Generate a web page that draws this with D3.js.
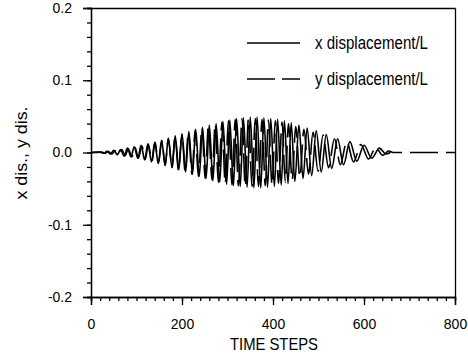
<!DOCTYPE html>
<html>
<head>
<meta charset="utf-8">
<script src="https://cdn.jsdelivr.net/npm/d3@7"></script>
<style>
  body { margin: 0; background: #fff; }
  text { font-family: "Liberation Sans Narrow", "Liberation Sans", Arial, sans-serif; fill: #000; }
  .axis path, .axis line { stroke: #000; stroke-width: 1.3; }
  .axis text { font-size: 14px; }
</style>
</head>
<body>
<div class="dispGraph"></div>
<script>
// x displacement/L : peaks and troughs (time step, value)
const xDispT = [0, 20, 28, 35, 43, 50, 58, 65, 73, 80, 88, 95, 103, 110, 118, 125, 133, 140, 148,
  155, 163, 170, 178, 185, 193, 200, 208, 215, 223, 230, 238, 245, 253, 260, 268, 275, 283,
  290, 298, 305, 313, 320, 328, 335, 343, 350, 358, 365, 373, 380, 388, 395, 403, 410, 418,
  425, 433, 440, 448, 457, 466, 475, 485, 495, 506, 517, 529, 542, 555, 569, 584, 600, 617,
  634, 648, 658];
const xDispV = [0, 0.0005, -0.001, 0.0015, -0.002, 0.003, -0.003, 0.004, -0.005, 0.006, -0.006,
  0.008, -0.008, 0.010, -0.010, 0.012, -0.013, 0.014, -0.015, 0.017, -0.018, 0.020, -0.021,
  0.023, -0.024, 0.026, -0.027, 0.029, -0.030, 0.032, -0.033, 0.035, -0.036, 0.038, -0.039,
  0.040, -0.041, 0.043, -0.044, 0.045, -0.046, 0.047, -0.047, 0.048, -0.048, 0.049, -0.049,
  0.049, -0.049, 0.048, -0.048, 0.047, -0.047, 0.046, -0.045, 0.044, -0.043, 0.041, -0.040,
  0.038, -0.036, 0.034, -0.032, 0.030, -0.027, 0.025, -0.022, 0.019, -0.017, 0.015, -0.012,
  0.010, -0.008, 0.006, -0.002, 0];

// y displacement/L : peaks and troughs, a little out of step with x, then flat to the end
const yDispT = [0, 24, 31, 38, 46, 53, 60, 68, 75, 82, 90, 97, 104, 112, 119, 126, 134, 141, 148,
  156, 163, 170, 178, 185, 192, 200, 207, 214, 222, 229, 236, 244, 251, 258, 266, 273, 280,
  288, 295, 302, 310, 317, 324, 332, 339, 346, 354, 361, 368, 376, 383, 390, 398, 405, 412,
  420, 427, 434, 442, 450, 459, 468, 478, 488, 499, 510, 522, 535, 548, 562, 577, 593, 610,
  626, 641, 654, 664, 800];
const yDispV = [0, 0.0005, -0.001, 0.0015, -0.002, 0.0025, -0.003, 0.004, -0.0045, 0.005, -0.006,
  0.007, -0.008, 0.009, -0.010, 0.011, -0.012, 0.014, -0.015, 0.016, -0.018, 0.019, -0.021,
  0.022, -0.024, 0.025, -0.027, 0.028, -0.030, 0.031, -0.033, 0.034, -0.036, 0.037, -0.038,
  0.040, -0.041, 0.042, -0.043, 0.044, -0.045, 0.046, -0.046, 0.047, -0.047, 0.047, -0.047,
  0.047, -0.047, 0.046, -0.046, 0.045, -0.045, 0.044, -0.043, 0.042, -0.041, 0.040, -0.038,
  0.036, -0.034, 0.032, -0.030, 0.028, -0.026, 0.024, -0.021, 0.019, -0.017, 0.015, -0.013,
  0.011, -0.009, 0.007, -0.004, 0.002, 0, 0];

const xTicks = [0, 200, 400, 600, 800];
const yTicks = [-0.2, -0.1, 0.0, 0.1, 0.2];
const legendLabels = ["x displacement/L", "y displacement/L"];

const width = 468, height = 356;
const margin = {top: 8, right: 13, bottom: 59, left: 91};

const xScale = d3.scaleLinear()
  .domain([0, 800])
  .range([margin.left, width - margin.right]);

const yScale = d3.scaleLinear()
  .domain([-0.2, 0.2])
  .range([height - margin.bottom, margin.top]);

const svg = d3.select(".dispGraph").append("svg")
  .attr("width", width)
  .attr("height", height);

// minor ticks first, majors drawn on top
svg.append("g")
  .attr("class", "axis")
  .attr("transform", "translate(0," + yScale(-0.2) + ")")
  .call(d3.axisBottom(xScale).tickValues(d3.range(0, 801, 20)).tickSize(4).tickFormat(""));

svg.append("g")
  .attr("class", "axis")
  .attr("transform", "translate(" + xScale(0) + ",0)")
  .call(d3.axisLeft(yScale).tickValues(d3.range(-10, 11).map(d => d * 0.02)).tickSize(4).tickFormat(""));

svg.append("g")
  .attr("class", "axis")
  .attr("transform", "translate(0," + yScale(-0.2) + ")")
  .call(d3.axisBottom(xScale).tickValues(xTicks).tickSize(8).tickPadding(14).tickFormat(d3.format("d")));

// plain hyphen for negatives, like the original
const yFmt = d => d3.format(".1f")(d).replace("\u2212", "-");
svg.append("g")
  .attr("class", "axis")
  .attr("transform", "translate(" + xScale(0) + ",0)")
  .call(d3.axisLeft(yScale).tickValues(yTicks).tickSize(8).tickPadding(11).tickFormat(yFmt));

// frame on top and right
svg.append("g")
  .attr("class", "axis")
  .attr("transform", "translate(0," + yScale(0.2) + ")")
  .call(d3.axisTop(xScale).tickValues(xTicks).tickSize(0).tickFormat(""));

svg.append("g")
  .attr("class", "axis")
  .attr("transform", "translate(" + xScale(800) + ",0)")
  .call(d3.axisRight(yScale).tickValues([0]).tickSize(0).tickFormat(""));

// lines
const line = d3.line()
  .x(d => xScale(d[0]))
  .y(d => yScale(d[1]))
  .curve(d3.curveMonotoneX);

const xData = xDispT.map((t, i) => [t, xDispV[i]]);
const yData = yDispT.map((t, i) => [t, yDispV[i]]);

svg.append("path")
  .datum(yData)
  .attr("fill", "none")
  .attr("stroke", "#000")
  .attr("stroke-width", 1.6)
  .attr("stroke-dasharray", "28,8")
  .attr("d", line);

svg.append("path")
  .datum(xData)
  .attr("fill", "none")
  .attr("stroke", "#000")
  .attr("stroke-width", 1.6)
  .attr("d", line);

// legend
const legend = svg.append("g");
legendLabels.forEach((label, i) => {
  const ly = 43 + i * 36;
  legend.append("line")
    .attr("x1", 247).attr("x2", 300)
    .attr("y1", ly).attr("y2", ly)
    .attr("stroke", "#000")
    .attr("stroke-width", 1.3)
    .attr("stroke-dasharray", i === 1 ? "28,7" : null);
  legend.append("text")
    .attr("x", 315)
    .attr("y", ly + 6)
    .attr("font-size", "17.5px")
    .attr("textLength", 113)
    .attr("lengthAdjust", "spacingAndGlyphs")
    .text(label);
});

// axis titles
svg.append("text")
  .attr("x", 274)
  .attr("y", 350)
  .attr("text-anchor", "middle")
  .attr("font-size", "17px")
  .attr("textLength", 88)
  .attr("lengthAdjust", "spacingAndGlyphs")
  .text("TIME STEPS");

svg.append("text")
  .attr("transform", "translate(27,153) rotate(-90)")
  .attr("text-anchor", "middle")
  .attr("font-size", "16px")
  .attr("textLength", 93)
  .attr("lengthAdjust", "spacingAndGlyphs")
  .text("x dis., y dis.");
</script>
</body>
</html>
